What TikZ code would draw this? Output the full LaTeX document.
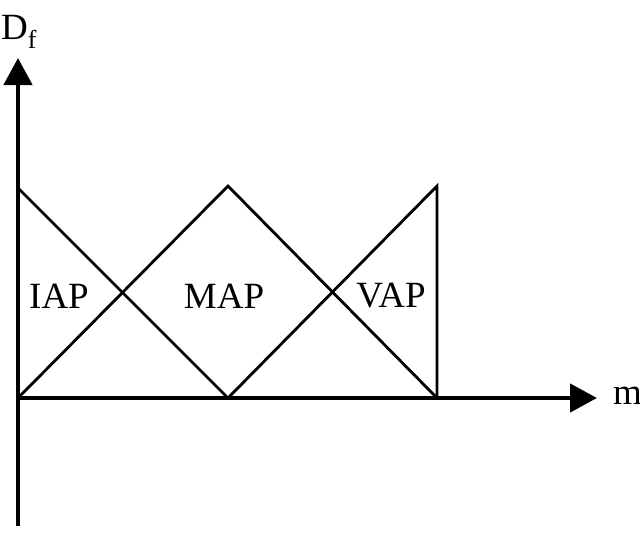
\documentclass[tikz,border=0pt]{standalone}
\usepackage{fontspec}
\setmainfont{Liberation Serif}
\usetikzlibrary{arrows.meta, calc, positioning}

\begin{document}
\begin{tikzpicture}[x=1pt, y=-1pt,% styles used in image code
     axis/.style = {line width=4.5pt, -{Triangle[length=27pt, width=28pt]}},
 member/.style = {line width=2.8pt, line join=miter},
  label/.style = {font=\fontsize{37}{42}\selectfont, inner sep=0pt}
                    ]
	\useasboundingbox (0,0) rectangle (640,536);
	% corner points
	\coordinate (O)  at (18,398);
	\coordinate (yb) at (18,526);
	\coordinate (yt) at (18,58);
	\coordinate (xe) at (597,398);
	\coordinate (L)  at (18,188);
	\coordinate (M)  at (228,186);
	\coordinate (Mb) at (228,398);
	\coordinate (V)  at (437,186);
	\coordinate (Vb) at (437,398);
	
	% membership triangles
	\draw[member] (L) -- (Mb);
	\draw[member] (O) -- (M) -- (Vb);
	\draw[member] (Mb) -- (V) -- (Vb);
	
	% coordinate axis
	\draw[axis] (yb) -- (yt);
	\draw[axis] (O) -- (xe);
	\node[label, anchor=base west] (Df) at (1,39) {D\textsubscript{f}};
	\node[label, anchor=base west] (m) at (613,404) {m};
	
	\node[label] (IAP) at (59,296) {IAP};
	\node[label] (MAP) at (224,296) {MAP};
	\node[label] (VAP) at (391,296) {VAP};
\end{tikzpicture}
\end{document}
